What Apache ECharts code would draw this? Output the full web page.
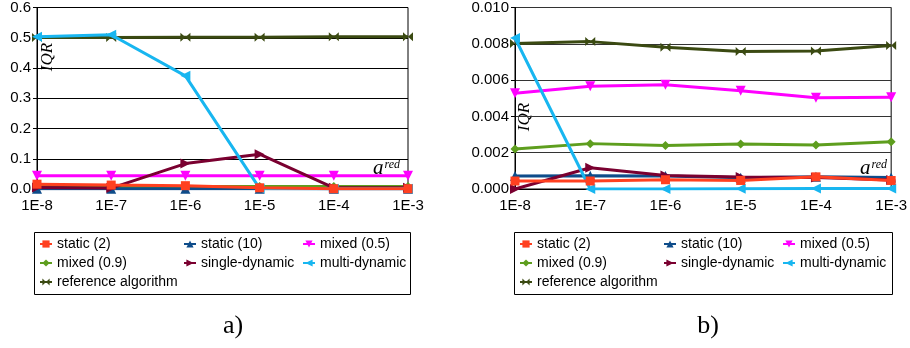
<!DOCTYPE html>
<html><head><meta charset="utf-8">
<script src="https://cdn.jsdelivr.net/npm/echarts@6/dist/echarts.min.js"></script>
<style>html,body{margin:0;padding:0;background:#fff}#c{width:910px;height:348px}</style>
</head><body><div id="c"></div>
<script>
const categories = ['1E-8','1E-7','1E-6','1E-5','1E-4','1E-3'];
const seriesNames = ['static (2)','static (10)','mixed (0.5)','mixed (0.9)','single-dynamic','multi-dynamic','reference algorithm'];
// chart a)
const aStatic2 = [0.016,0.013,0.011,0.004,0.001,0.001];
const aStatic10 = [0.0005,0.0005,0.0005,0.0005,0.0005,0.0005];
const aMixed05 = [0.044,0.044,0.044,0.044,0.044,0.044];
const aMixed09 = [0.008,0.008,0.008,0.008,0.008,0.008];
const aSingle = [0.005,0.003,0.084,0.115,0.004,0.004];
const aMulti = [0.503,0.510,0.374,0.002,0.001,0.001];
const aRef = [0.501,0.501,0.502,0.502,0.503,0.503];
// chart b)
const bStatic2 = [0.00044,0.00044,0.00051,0.00047,0.00067,0.00047];
const bStatic10 = [0.00071,0.00073,0.00071,0.00062,0.00068,0.00064];
const bMixed05 = [0.00528,0.00566,0.00574,0.00541,0.00503,0.00505];
const bMixed09 = [0.00220,0.00250,0.00240,0.00248,0.00242,0.00260];
const bSingle = [0.0000,0.00117,0.00075,0.00066,0.00064,0.00049];
const bMulti = [0.00832,0.0000,0.0000,0.00002,0.00003,0.00003];
const bRef = [0.00801,0.00812,0.00781,0.00758,0.00760,0.00790];
const aTicks = {min:0,max:0.6,interval:0.1,dec:1};
const bTicks = {min:0,max:0.010,interval:0.002,dec:3};

const colors = ['#FF4020','#0E4C8A','#FF00FF','#5E9E1E','#7A0030','#18B6F0','#3B4A12'];
const symbols = ['rect','triangle','path://M0,0 L10,0 L5,10 Z','diamond','path://M0,0 L10,5 L0,10 Z','path://M10,0 L0,5 L10,10 Z','path://M0,0 L5,5 L0,10 Z M10,0 L5,5 L10,10 Z'];
const sizes = [9,10,10,9,10,10,[10,9]];
const zs = [9,4,5,3,6,7,2];
const aData = [aStatic2,aStatic10,aMixed05,aMixed09,aSingle,aMulti,aRef];
const bData = [bStatic2,bStatic10,bMixed05,bMixed09,bSingle,bMulti,bRef];

const series = [];
[aData,bData].forEach((set,gi)=>{
  set.forEach((d,i)=>{
    series.push({
      name: seriesNames[i], type:'line', xAxisIndex:gi, yAxisIndex:gi, data:d,
      symbol: symbols[i], symbolSize: sizes[i], showAllSymbol:true,
      lineStyle:{color:colors[i], width:3}, itemStyle:{color:colors[i]},
      z: zs[i], animation:false, emphasis:{disabled:true}
    });
  });
});

function yAxis(gi,t){
  return {type:'value', gridIndex:gi, min:t.min, max:t.max, interval:t.interval,
    axisLine:{show:true,lineStyle:{color:'#000',width:1}},
    axisTick:{show:true,length:4,lineStyle:{color:'#000'}},
    axisLabel:{formatter:v=>v.toFixed(t.dec), color:'#000', fontSize:15, fontFamily:'Liberation Sans', margin:6},
    splitLine:{show:true,lineStyle:{color: gi===0?'#000':'#333', width:1}}};
}
function xAxis(gi){
  return {type:'category', gridIndex:gi, data:categories, boundaryGap:false,
    axisLine:{show:true,lineStyle:{color:'#000',width:1}},
    axisTick:{show:false},
    axisLabel:{color:'#000', fontSize:15, fontFamily:'Liberation Sans', margin:9, interval:0}};
}
const legendText = {fontSize:14, fontFamily:'Liberation Sans', color:'#000'};
function legends(x0){
  const cols = [[0,3,6],[1,4],[2,5]];
  const offs = [5,149,268];
  return cols.map((c,k)=>({orient:'vertical', left:x0+offs[k], top:237, itemGap:5,
    itemWidth:12, itemHeight:9, itemTextGap:3, textStyle:legendText, padding:0,
    selectedMode:false, data:c.map(i=>seriesNames[i])}));
}
const serif = 'Liberation Serif';
function labels(cx, iqrX, iqrY, arX, arY, cap){
  return [
    {type:'text', x:iqrX, y:iqrY, rotation:Math.PI/2, style:{text:'IQR', font:'italic 17px '+serif, fill:'#000', textAlign:'center', textVerticalAlign:'middle'}},
    {type:'text', x:arX, y:arY, style:{text:'{a|a}{s|red}', rich:{a:{fontFamily:serif, fontStyle:'italic', fontSize:21, color:'#000'}, s:{fontFamily:serif, fontStyle:'italic', fontSize:12, color:'#000', padding:[0,0,7,1]}}, textAlign:'left', textVerticalAlign:'bottom'}},
    {type:'text', x:cx, y:326, style:{text:cap, font:'26px '+serif, fill:'#000', textAlign:'center', textVerticalAlign:'middle'}},
  ];
}
const graphic = [
  {type:'rect', shape:{x:34.5,y:232.5,width:376,height:62}, style:{fill:'none',stroke:'#000',lineWidth:1}, z:-1},
  {type:'rect', shape:{x:514.5,y:232.5,width:378,height:62}, style:{fill:'none',stroke:'#000',lineWidth:1}, z:-1},
  ...labels(233, 48, 57, 373, 179, 'a)'),
  ...labels(708, 525, 117, 860, 179, 'b)')
];

const chart = echarts.init(document.getElementById('c'), null, {renderer:'canvas'});
chart.setOption({
  animation:false,
  grid:[
    {left:37, top:6, width:371, height:183, show:true, borderColor:'#000', borderWidth:1, backgroundColor:'transparent'},
    {left:515, top:6, width:378, height:183, show:true, borderColor:'#000', borderWidth:1, backgroundColor:'transparent'}
  ],
  xAxis:[xAxis(0), xAxis(1)],
  yAxis:[yAxis(0,aTicks), yAxis(1,bTicks)],
  legend:[...legends(34), ...legends(514)],
  graphic: graphic,
  series: series
});
</script></body></html>
